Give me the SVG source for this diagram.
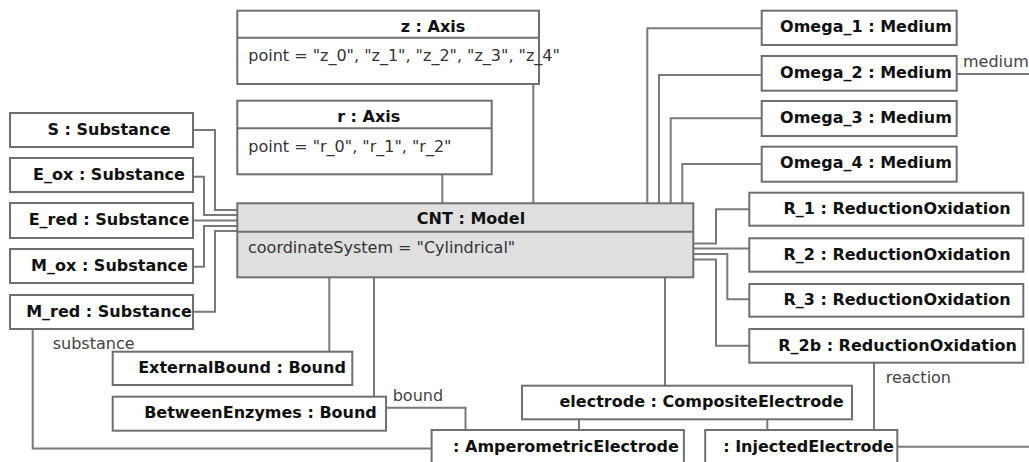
<svg xmlns="http://www.w3.org/2000/svg" width="1029" height="462" viewBox="0 0 1029 462">
<style>
.box{fill:#ffffff;stroke:#6f6f6f;stroke-width:2}
.model{fill:#e0e0e0;stroke:#6f6f6f;stroke-width:2}
.div{stroke:#6f6f6f;stroke-width:2}
.t{font-family:"DejaVu Sans",sans-serif;font-size:16px;font-weight:bold;fill:#111111;text-anchor:middle}
.a{font-family:"DejaVu Sans",sans-serif;font-size:16px;fill:#333333}
.lbl{font-family:"DejaVu Sans",sans-serif;font-size:16px;fill:#444444}
.c path{fill:none;stroke:#7a7a7a;stroke-width:2}
</style>
<rect width="1029" height="462" fill="#ffffff"/>
<g class="c" id="connectors">
<path d="M193 130H215V210H237"/>
<path d="M193 176.7H204V215H237"/>
<path d="M193 220.5H237"/>
<path d="M193 266.7H204V226H237"/>
<path d="M193 311.7H215V231H237"/>
<path d="M442.3 174.3V203"/>
<path d="M533.3 84V203"/>
<path d="M761.7 28.3H647.3V203"/>
<path d="M761.7 75H659V203"/>
<path d="M761.7 118.3H670.7V203"/>
<path d="M761.7 164H682.3V203"/>
<path d="M956.7 74H1029"/>
<path d="M693 243.5H716V209.3H749.3"/>
<path d="M693 248.5H749.3"/>
<path d="M693 254H727.3V299.3H749.3"/>
<path d="M693 259.5H716V345.7H749.3"/>
<path d="M665 277V385.7"/>
<path d="M329.3 277V351.7"/>
<path d="M374 277V396.7"/>
<path d="M386 407.7H465.5V430"/>
<path d="M32.7 329V448.5H432"/>
<path d="M579 419.3V430"/>
<path d="M767.3 419.3V430"/>
<path d="M874 362.7V430"/>
<path d="M897.3 446.7H1029"/>
</g>
<g id="labels">
<text class="lbl" x="52.7" y="349.3">substance</text>
<text class="lbl" x="392.7" y="401">bound</text>
<text class="lbl" x="963" y="66.7">medium</text>
<text class="lbl" x="885.7" y="383.3">reaction</text>
</g>
<g id="z">
<rect class="box" x="237.3" y="10.7" width="301.7" height="73.3"/>
<line class="div" x1="237.3" y1="37.7" x2="539" y2="37.7"/>
<text class="t" x="433" y="31.5">z : Axis</text>
<text class="a" x="248.3" y="60.5">point = "z_0", "z_1", "z_2", "z_3", "z_4"</text>
</g>
<g id="r">
<rect class="box" x="237.3" y="100.7" width="254.4" height="73.6"/>
<line class="div" x1="237.3" y1="128.3" x2="491.7" y2="128.3"/>
<text class="t" x="368.7" y="121.5">r : Axis</text>
<text class="a" x="248.3" y="151.5">point = "r_0", "r_1", "r_2"</text>
</g>
<g id="CNT">
<rect class="model" x="237.3" y="203.3" width="456" height="74"/>
<line class="div" x1="237.3" y1="231.7" x2="693.3" y2="231.7"/>
<text class="t" x="471" y="224.3">CNT : Model</text>
<text class="a" x="248" y="252.7">coordinateSystem = "Cylindrical"</text>
</g>
<g id="S"><rect class="box" x="10" y="113" width="183" height="34"/><text class="t" x="109" y="134.5">S : Substance</text></g>
<g id="E_ox"><rect class="box" x="10" y="158" width="183" height="34"/><text class="t" x="109" y="179.5">E_ox : Substance</text></g>
<g id="E_red"><rect class="box" x="10" y="203" width="183" height="35"/><text class="t" x="109" y="224.5">E_red : Substance</text></g>
<g id="M_ox"><rect class="box" x="10" y="249" width="183" height="34"/><text class="t" x="109.5" y="270.5">M_ox : Substance</text></g>
<g id="M_red"><rect class="box" x="10" y="295" width="183" height="34"/><text class="t" x="109" y="316.5">M_red : Substance</text></g>
<g id="Omega_1"><rect class="box" x="761.7" y="10.7" width="195" height="34.3"/><text class="t" x="866" y="32.2">Omega_1 : Medium</text></g>
<g id="Omega_2"><rect class="box" x="761.7" y="56" width="195" height="34.7"/><text class="t" x="866" y="77.5">Omega_2 : Medium</text></g>
<g id="Omega_3"><rect class="box" x="761.7" y="101" width="195" height="35"/><text class="t" x="866" y="122.5">Omega_3 : Medium</text></g>
<g id="Omega_4"><rect class="box" x="761.7" y="146.7" width="195" height="35"/><text class="t" x="866" y="168.2">Omega_4 : Medium</text></g>
<g id="R_1"><rect class="box" x="749.3" y="192.7" width="274" height="33"/><text class="t" x="897" y="214">R_1 : ReductionOxidation</text></g>
<g id="R_2"><rect class="box" x="749.3" y="238.3" width="274" height="33.4"/><text class="t" x="897" y="259.6">R_2 : ReductionOxidation</text></g>
<g id="R_3"><rect class="box" x="749.3" y="284" width="274" height="32.7"/><text class="t" x="897" y="305.3">R_3 : ReductionOxidation</text></g>
<g id="R_2b"><rect class="box" x="749.3" y="329" width="274" height="33.7"/><text class="t" x="897.5" y="350.5">R_2b : ReductionOxidation</text></g>
<g id="ExternalBound"><rect class="box" x="112.7" y="351.7" width="239.6" height="33.3"/><text class="t" x="242" y="373">ExternalBound : Bound</text></g>
<g id="BetweenEnzymes"><rect class="box" x="112.7" y="396.7" width="273.3" height="34"/><text class="t" x="260.5" y="418.2">BetweenEnzymes : Bound</text></g>
<g id="electrode"><rect class="box" x="522" y="385.7" width="330" height="33.6"/><text class="t" x="701.5" y="407.2">electrode : CompositeElectrode</text></g>
<g id="AmperometricElectrode"><rect class="box" x="431.6" y="430" width="252.3" height="45"/><text class="t" x="566" y="451.7">: AmperometricElectrode</text></g>
<g id="InjectedElectrode"><rect class="box" x="705.2" y="430" width="192.1" height="45"/><text class="t" x="808.5" y="451.7">: InjectedElectrode</text></g>
</svg>
